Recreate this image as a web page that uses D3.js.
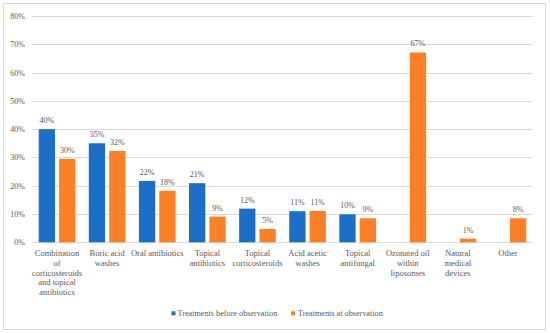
<!DOCTYPE html>
<html><head><meta charset="utf-8">
<script src="https://cdn.jsdelivr.net/npm/d3@7"></script>
<style>body{margin:0;background:#fff}svg{display:block}svg text{font-family:"Liberation Serif","Times New Roman","DejaVu Serif",serif}</style>
</head><body>
<script>
const categories = ["Combination of corticosteroids and topical antibiotics","Boric acid washes","Oral antibiotics","Topical antibiotics","Topical corticosteroids","Acid acetic washes","Topical antifungal","Ozonated oil within liposomes","Natural medical devices","Other"];
const categoryLines = [["Combination","of","corticosteroids","and topical","antibiotics"],["Boric acid","washes"],["Oral antibiotics"],["Topical","antibiotics"],["Topical","corticosteroids"],["Acid acetic","washes"],["Topical","antifungal"],["Ozonated oil","within","liposomes"],["Natural","medical","devices"],["Other"]];
const seriesNames = ["Treatments before observation","Treatments at observation"];
const before = [40, 35, 21.7, 20.9, 11.9, 11.0, 9.9, null, null, null];
const atObs = [29.5, 32.3, 18.2, 9.1, 4.7, 11.1, 8.5, 67.1, 1.3, 8.5];
const beforeLabels = ["40%","35%","22%","21%","12%","11%","10%","","",""];
const atLabels = ["30%","32%","18%","9%","5%","11%","9%","67%","1%","8%"];
const yTicks = [0,10,20,30,40,50,60,70,80];
const colors = ["#1c6fc8","#fd7f26"];

const W=550,H=333;
const svg=d3.select("body").append("svg").attr("width",W).attr("height",H);
const txt="#595959";
svg.append("rect").attr("x",3.5).attr("y",3.5).attr("width",542).attr("height",326).attr("fill","#fff").attr("stroke","#d9d9d9");

const x0=32,x1=533,y0=242.3,y1=16;
const x=d3.scaleBand().domain(categories).range([x0,x1]).paddingInner(0).paddingOuter(0);
const y=d3.scaleLinear().domain([0,80]).range([y0,y1]);
const xs=d3.scaleBand().domain([0,1]).range([0,x.bandwidth()]).paddingInner(0.2).paddingOuter(0.33);

svg.append("g").selectAll("line").data(yTicks).join("line")
 .attr("x1",x0).attr("x2",x1).attr("y1",d=>Math.round(y(d))+0.5).attr("y2",d=>Math.round(y(d))+0.5)
 .attr("stroke","#d9d9d9").attr("stroke-width",1);
svg.append("g").selectAll("text").data(yTicks).join("text")
 .attr("x",25).attr("y",d=>y(d)+3).attr("text-anchor","end")
 .attr("font-size",8).attr("fill",txt).text(d=>d+"%");

const series=[before,atObs], labels=[beforeLabels,atLabels];
series.forEach((vals,s)=>{
  const g=svg.append("g");
  const data=categories.map((c,i)=>({c,v:vals[i],l:labels[s][i]})).filter(d=>d.v!=null);
  g.selectAll("rect").data(data).join("rect")
   .attr("x",d=>x(d.c)+xs(s)).attr("width",xs.bandwidth())
   .attr("y",d=>y(d.v)).attr("height",d=>y0-y(d.v)).attr("fill",colors[s]);
  g.selectAll("text").data(data).join("text")
   .attr("x",d=>x(d.c)+xs(s)+xs.bandwidth()/2).attr("y",d=>y(d.v)-6)
   .attr("text-anchor","middle").attr("font-size",8).attr("fill",txt).text(d=>d.l);
});

categories.forEach((c,i)=>{
  const t=svg.append("text").attr("text-anchor","middle").attr("font-size",8.5).attr("fill",txt);
  categoryLines[i].forEach((ln,j)=>{
    t.append("tspan").attr("x",x(c)+x.bandwidth()/2).attr("y",256+j*9.8).text(ln);
  });
});

const leg=[{x:171.5,tx:177.5},{x:291,tx:298}];
seriesNames.forEach((n,i)=>{
  svg.append("rect").attr("x",leg[i].x).attr("y",311.3).attr("width",4).attr("height",4).attr("fill",colors[i]);
  svg.append("text").attr("x",leg[i].tx).attr("y",316.3).attr("font-size",8.2).attr("fill",txt).text(n);
});
</script>
</body></html>
